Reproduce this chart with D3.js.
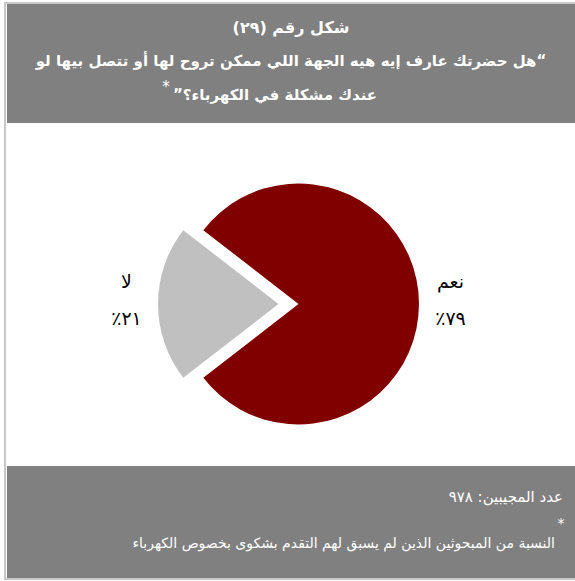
<!DOCTYPE html>
<html lang="ar">
<head>
	<meta charset="utf-8">
	<title>شكل رقم (٢٩)</title>
	<style>
		body { margin: 0; background: #fff; }
		svg { display: block; }
		.ar { font-family: "DejaVu Sans", sans-serif; direction: rtl; }
	</style>
</head>
<body>
	<svg width="575" height="581"></svg>

	<script src="https://d3js.org/d3.v7.min.js"></script>
	<script>
		// data
		var labels = ["نعم", "لا"];
		var values = [79, 21];
		var pctLabels = ["٧٩٪", "٢١٪"];
		var colors = ["#800000", "#c0c0c0"];

		var titleLines = [
			"شكل رقم (٢٩)",
			"“هل حضرتك عارف إيه هيه الجهة اللي ممكن تروح لها أو تتصل بيها لو",
			"عندك مشكلة في الكهرباء؟”"
		];
		var footLines = [
			"عدد المجيبين:  ٩٧٨",
			"النسبة من المبحوثين الذين لم يسبق لهم التقدم بشكوى بخصوص الكهرباء"
		];

		var svg = d3.select("svg");

		// frame + grey bands
		svg.append("rect")
			.attr("x", 5).attr("y", 3).attr("width", 580).attr("height", 576)
			.attr("fill", "#fff").attr("stroke", "#c8c8c8").attr("stroke-width", 2);
		svg.append("rect")
			.attr("x", 7).attr("y", 4).attr("width", 568).attr("height", 119)
			.attr("fill", "#808080");
		svg.append("rect")
			.attr("x", 7).attr("y", 466).attr("width", 568).attr("height", 112)
			.attr("fill", "#808080");

		// header text
		var titleY = [33, 66, 100];
		var titleSize = [16, 15, 15];
		var tl = svg.selectAll(".title").data(titleLines)
			.enter().append("text")
			.attr("class", "title ar")
			.attr("x", function(d, i) { return i == 2 ? 275 : 291; })
			.attr("y", function(d, i) { return titleY[i]; })
			.attr("text-anchor", "middle")
			.attr("fill", "#fff")
			.attr("font-weight", "bold")
			.attr("font-size", function(d, i) { return titleSize[i] + "px"; })
			.text(function(d) { return d; });

		// superscript asterisk left of line 3
		var l3 = tl.nodes()[2];
		var w3 = l3.getComputedTextLength();
		svg.append("text")
			.attr("x", 275 - w3 / 2 - 7)
			.attr("y", 92)
			.attr("text-anchor", "middle")
			.attr("fill", "#fff")
			.attr("font-family", "DejaVu Sans")
			.attr("font-size", "15px")
			.text("*");

		// footer text
		svg.append("text")
			.attr("class", "ar")
			.attr("x", 563).attr("y", 502)
			.attr("text-anchor", "start")
			.attr("fill", "#fff")
			.attr("font-size", "15px")
			.text(footLines[0]);
		svg.append("text")
			.attr("x", 561).attr("y", 528)
			.attr("text-anchor", "middle")
			.attr("fill", "#fff")
			.attr("font-family", "DejaVu Sans")
			.attr("font-size", "14px")
			.text("*");
		svg.append("text")
			.attr("class", "ar")
			.attr("x", 555).attr("y", 548)
			.attr("text-anchor", "start")
			.attr("fill", "#fff")
			.attr("font-size", "14px")
			.text(footLines[1]);

		// pie
		var cx = 298.5, cy = 304, r = 120.5, explode = 20;
		var pie = d3.pie().sort(null)
			.startAngle(Math.PI * 1.5 + Math.PI * values[1] / 100)
			.endAngle(Math.PI * 3.5 + Math.PI * values[1] / 100);
		var arcs = pie(values);
		var arc = d3.arc().innerRadius(0).outerRadius(r);
		var labelArc = d3.arc().innerRadius(152).outerRadius(152);

		var g = svg.append("g").attr("transform", "translate(" + cx + "," + cy + ")");

		var slices = g.selectAll(".slice").data(arcs)
			.enter().append("g")
			.attr("class", "slice")
			.attr("transform", function(d, i) {
				if (i != 1) return null;
				var a = (d.startAngle + d.endAngle) / 2;
				return "translate(" + (Math.sin(a) * explode) + "," + (-Math.cos(a) * explode) + ")";
			});

		slices.append("path")
			.attr("d", arc)
			.attr("fill", function(d, i) { return colors[i]; });

		slices.append("text")
			.attr("class", "ar")
			.attr("transform", function(d) { return "translate(" + labelArc.centroid(d) + ")"; })
			.attr("text-anchor", "middle")
			.attr("y", -16)
			.attr("font-size", "19px")
			.attr("fill", "#000")
			.text(function(d, i) { return labels[i]; });

		slices.append("text")
			.attr("class", "ar")
			.attr("transform", function(d) { return "translate(" + labelArc.centroid(d) + ")"; })
			.attr("text-anchor", "middle")
			.attr("y", 21)
			.attr("font-size", "19px")
			.attr("fill", "#000")
			.text(function(d, i) { return pctLabels[i]; });
	</script>
</body>
</html>
